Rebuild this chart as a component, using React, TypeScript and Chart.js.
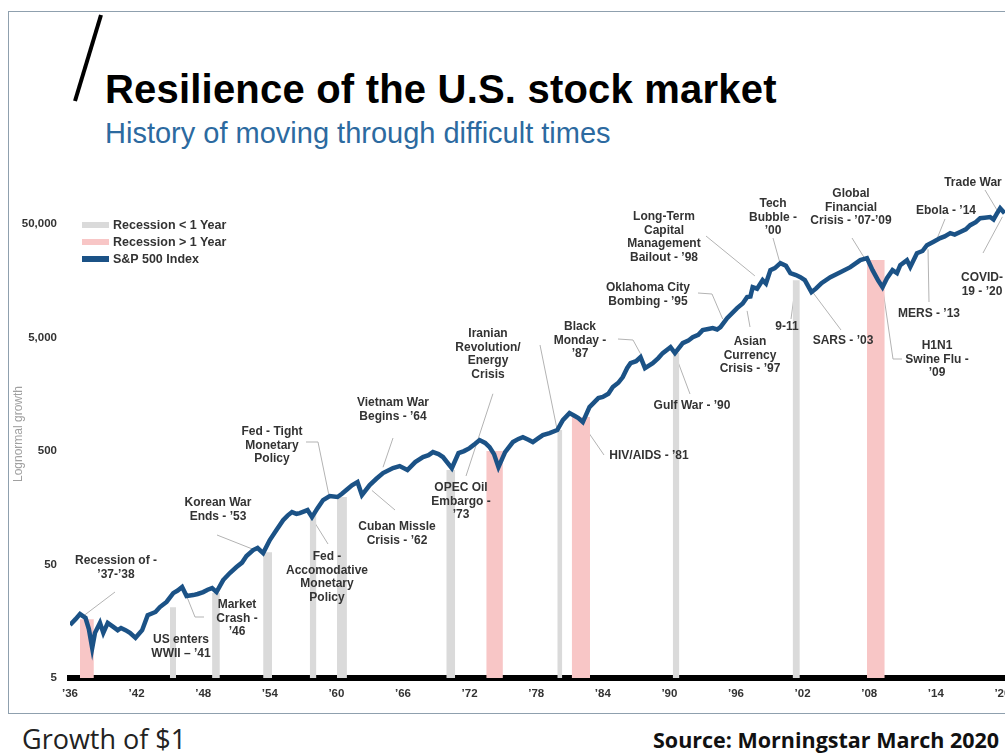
import React, { useEffect, useRef } from "react";
import { Chart, registerables } from "chart.js";

Chart.register(...registerables);

// ---------------- DATA ----------------
const YEARS = [
  1936.0, 1936.5, 1936.9, 1937.4, 1937.7, 1938.0, 1938.25, 1938.7, 1939.0, 1939.4, 1939.9, 1940.3, 1940.6, 1941.0,
  1941.4, 1941.9, 1942.5, 1943.0, 1943.7, 1944.1, 1944.7, 1945.3, 1945.7, 1946.1, 1946.5, 1947.1, 1947.5, 1948.0,
  1948.4, 1948.8, 1949.2, 1949.8, 1950.4, 1951.0, 1951.5, 1951.9, 1952.5, 1952.9, 1953.4, 1954.0, 1954.6, 1955.2,
  1955.6, 1956.0, 1956.4, 1956.7, 1957.4, 1957.8, 1958.3, 1958.8, 1959.4, 1960.1, 1960.5, 1960.9, 1961.4, 1961.9,
  1962.3, 1963.0, 1963.6, 1964.2, 1965.1, 1965.7, 1966.4, 1967.1, 1967.8, 1968.3, 1968.7, 1969.2, 1969.6, 1970.4,
  1971.0, 1971.5, 1972.0, 1972.5, 1972.9, 1973.4, 1973.8, 1974.2, 1974.6, 1974.9, 1975.2, 1975.9, 1976.4, 1976.8,
  1977.3, 1977.7, 1978.2, 1978.6, 1979.2, 1979.9, 1980.4, 1981.0, 1981.4, 1981.8, 1982.2, 1982.8, 1983.6, 1984.0,
  1984.5, 1984.9, 1985.4, 1985.8, 1986.2, 1986.5, 1987.0, 1987.4, 1987.8, 1988.5, 1989.0, 1989.4, 1990.1, 1990.5,
  1991.2, 1991.7, 1992.1, 1992.6, 1993.0, 1993.5, 1993.9, 1994.3, 1994.6, 1995.2, 1996.1, 1996.6, 1997.0, 1997.3,
  1997.5, 1997.9, 1998.4, 1998.7, 1999.1, 1999.5, 2000.0, 2000.5, 2000.9, 2001.4, 2001.8, 2002.2, 2002.8, 2003.2,
  2003.7, 2004.5, 2005.4, 2006.3, 2007.2, 2007.8, 2008.3, 2008.8, 2009.2, 2009.6, 2010.1, 2010.5, 2010.8, 2011.4,
  2011.7, 2012.3, 2012.8, 2013.2, 2013.8, 2014.4, 2014.8, 2015.3, 2015.7, 2016.2, 2016.7, 2017.1, 2017.6, 2018.0,
  2018.4, 2018.9, 2019.2, 2019.5, 2019.8, 2020.2,
];
const SP500 = [
  14.7, 16.5, 18.3, 16.9, 13.5, 9.2, 12.5, 15.3, 12.5, 15.3, 14.1, 13.2, 13.8, 13.2,
  12.5, 11.3, 13.2, 17.9, 19.1, 21.1, 23.4, 28.0, 29.5, 31.7, 26.4, 26.9, 27.5, 28.6,
  30.0, 31.0, 28.6, 36.5, 42.1, 47.5, 52, 59.4, 67.1, 69.9, 63.1, 82.2, 100.7, 123,
  135, 145, 140, 142, 151, 131, 157, 185, 201, 197, 210, 227, 250, 267,
  205, 251, 285, 320, 354, 369, 340, 400, 443, 460, 490, 470, 443, 354,
  480, 500, 531, 580, 625, 590, 542, 470, 361, 420, 490, 600, 640, 664,
  630, 600, 650, 692, 720, 766, 938, 1081, 1030, 977, 901, 1222, 1466, 1500,
  1600, 1832, 2000, 2244, 2700, 2980, 3100, 3367, 2693, 2980, 3300, 3650, 4122, 3650,
  4476, 4700, 5050, 5300, 5820, 5950, 6066, 5900, 6190, 7430, 9100, 10000, 11375, 11500,
  13930, 13500, 16060, 15000, 19670, 20500, 22650, 21500, 18500, 17800, 17060, 16060, 12590, 13500,
  15100, 17060, 18880, 20900, 24100, 25100, 19670, 16000, 13930, 16700, 19670, 18500, 21770, 24100,
  21000, 27750, 29000, 32650, 35000, 37660, 39000, 41670, 40500, 42700, 45000, 48980, 52000, 56460,
  57000, 57800, 55000, 62000, 69200, 62500,
];

// Recessions shorter than one year (grey)
const SHORT_START = [1945.0, 1948.8, 1953.4, 1957.6, 1960.05, 1969.9, 1979.9, 1990.3, 2001.1];
const SHORT_END = [1945.55, 1949.5, 1954.2, 1958.2, 1960.95, 1970.7, 1980.35, 1990.9, 2001.75];
const SHORT_TOP = [21, 28, 64, 142, 197, 340, 766, 3650, 16000];
// Recessions longer than one year (pink)
const LONG_START = [1936.9, 1973.5, 1981.2, 2007.8];
const LONG_END = [1938.15, 1975.0, 1982.85, 2009.4];
const LONG_TOP = [16.5, 500, 1000, 24100];

const X_TICKS = [1936, 1942, 1948, 1954, 1960, 1966, 1972, 1978, 1984, 1990, 1996, 2002, 2008, 2014, 2020];
const Y_TICKS = [5, 50, 500, 5000, 50000];

const EVENT_TEXT = [
  ["Recession of -", "\u201937-\u201938"],
  ["US enters", "WWII \u2013 \u201941"],
  ["Market", "Crash -", "\u201946"],
  ["Korean War", "Ends - \u201953"],
  ["Fed - Tight", "Monetary", "Policy"],
  ["Fed -", "Accomodative", "Monetary", "Policy"],
  ["Vietnam War", "Begins - \u201964"],
  ["Cuban Missle", "Crisis - \u201962"],
  ["OPEC Oil", "Embargo -", "\u201973"],
  ["Iranian", "Revolution/", "Energy", "Crisis"],
  ["Black", "Monday -", "\u201987"],
  ["HIV/AIDS - \u201981"],
  ["Gulf War - \u201990"],
  ["Oklahoma City", "Bombing - \u201995"],
  ["Long-Term", "Capital", "Management", "Bailout - \u201998"],
  ["Asian", "Currency", "Crisis - \u201997"],
  ["Tech", "Bubble -", "\u201900"],
  ["9-11"],
  ["SARS - \u201903"],
  ["Global", "Financial", "Crisis - \u201907-\u201909"],
  ["H1N1", "Swine Flu -", "\u201909"],
  ["MERS - \u201913"],
  ["Ebola - \u201914"],
  ["Trade War"],
  ["COVID-", "19 - \u201920"],
];
// Point on the index each event's leader line points to (null = no leader)
const EVENT_YEAR = [1937.0, null, 1946.5, 1952.85, 1959.3, 1957.8, 1964.2, 1963.2, 1974.1, 1979.9, 1987.4, 1982.0, 1990.5,
  1994.8, 1997.7, 1997.0, 2000.0, 2001.3, 2002.9, 2007.7, 2009.2, 2013.3, 2014.0, 2019.7, 2020.0];
const EVENT_VALUE = [17, null, 26.5, 66, 210, 128, 360, 225, 1600, 760, 3600, 920, 3600,
  7300, 17500, 8600, 22000, 13000, 12600, 24000, 14000, 30000, 35000, 62000, 58000];

// ---------------- LAYOUT (page pixels) ----------------
const CANVAS_TOP = 170;
const CANVAS_W = 1040;
const CANVAS_H = 545;
const LINE_H = 13.5;
// [label centre x, first line centre y]
const EVENT_POS: [number, number][] = [
  [116, 561], [181, 640], [237, 605], [218, 503], [272, 432], [327, 557], [393, 403], [397, 527], [461, 488],
  [488, 334], [580, 327], [649, 456], [692, 406], [648, 288], [664, 217], [750, 342], [773, 204], [787, 327],
  [843, 341], [851, 194], [937, 346], [929, 314], [946, 211], [973, 183], [982, 278],
];
// leader start, optional elbow
const LEADER_FROM: ([number, number] | null)[] = [
  [115, 592], null, [204, 617], [217, 535], [306, 442], [328, 544], [393, 438], [395, 510], [466, 476],
  [540, 345], [618, 339], [604, 455], [690, 394], [698, 293], [706, 236], [750, 327], [773, 238], [791, 319],
  [841, 330], [852, 238], [902, 359], [929, 302], [945, 219], [985, 190], [983, 253],
];
const LEADER_ELBOW: ([number, number] | null)[] = [
  null, null, [195, 617], null, [318, 442], null, null, null, null,
  null, [633, 340], null, null, [712, 294], null, null, null, null,
  null, null, [893, 359], null, null, null, null,
];

const FONT = '"Liberation Sans", Arial, Helvetica, sans-serif';
const LINE_COLOR = "#1b5286";
const GREY = "#dadada";
const PINK = "#f8c6c6";

const leaderPlugin = {
  id: "leaders",
  beforeDatasetsDraw(chart: any) {
    const { ctx, scales } = chart;
    const xs = scales.x;
    const ys = scales.y;
    ctx.save();
    ctx.strokeStyle = "#b3b3b3";
    ctx.lineWidth = 1;
    EVENT_TEXT.forEach((_, i) => {
      const from = LEADER_FROM[i];
      const yr = EVENT_YEAR[i];
      const val = EVENT_VALUE[i];
      if (!from || yr == null || val == null) return;
      ctx.beginPath();
      ctx.moveTo(from[0], from[1] - CANVAS_TOP);
      const el = LEADER_ELBOW[i];
      if (el) ctx.lineTo(el[0], el[1] - CANVAS_TOP);
      ctx.lineTo(xs.getPixelForValue(yr), ys.getPixelForValue(val));
      ctx.stroke();
    });
    ctx.restore();
  },
};

function recessionSets(starts: number[], ends: number[], tops: number[], color: string) {
  return starts.map((s, i) => ({
    type: "line" as const,
    data: [
      { x: s, y: tops[i] },
      { x: ends[i], y: tops[i] },
    ],
    borderWidth: 0,
    pointRadius: 0,
    backgroundColor: color,
    borderColor: color,
    fill: "start",
    order: 2,
  }));
}

export default function App() {
  const ref = useRef<HTMLCanvasElement>(null);

  useEffect(() => {
    Chart.defaults.font.family = FONT;
    const chart = new Chart(ref.current as HTMLCanvasElement, {
      type: "line",
      data: {
        datasets: [
          {
            label: "S&P 500 Index",
            data: YEARS.map((yr, i) => ({ x: yr, y: SP500[i] })),
            borderColor: LINE_COLOR,
            backgroundColor: LINE_COLOR,
            borderWidth: 4.5,
            pointRadius: 0,
            tension: 0,
            fill: false,
            order: 0,
          } as any,
          ...recessionSets(SHORT_START, SHORT_END, SHORT_TOP, GREY),
          ...recessionSets(LONG_START, LONG_END, LONG_TOP, PINK),
        ],
      },
      options: {
        responsive: false,
        animation: false,
        devicePixelRatio: 1,
        layout: { padding: { top: 20, left: 0, right: 26.5, bottom: 0 } },
        plugins: { legend: { display: false }, tooltip: { enabled: false } },
        scales: {
          x: {
            type: "linear",
            min: 1936,
            max: 2021,
            afterBuildTicks: (s: any) => {
              s.ticks = X_TICKS.map((v) => ({ value: v }));
            },
            afterFit: (s: any) => {
              s.height = 37;
            },
            grid: { display: false, drawTicks: false },
            border: { display: true, color: "#000", width: 6 },
            ticks: {
              autoSkip: false,
              maxRotation: 0,
              padding: 9,
              color: "#333",
              font: { size: 11.5, weight: "bold" },
              callback: (v: any) => "\u2019" + String(v).slice(2),
            },
          },
          y: {
            type: "logarithmic",
            min: 5,
            max: 100000,
            afterBuildTicks: (s: any) => {
              s.ticks = Y_TICKS.map((v) => ({ value: v }));
            },
            afterFit: (s: any) => {
              s.width = 70;
            },
            grid: { display: false, drawTicks: false },
            border: { display: false },
            ticks: {
              autoSkip: false,
              padding: 13,
              color: "#333",
              font: { size: 11.5, weight: "bold" },
              callback: (v: any) => Number(v).toLocaleString("en-US"),
            },
            title: {
              display: true,
              text: "Lognormal growth",
              color: "#a0a0a0",
              font: { size: 12 },
              padding: { top: 11, bottom: 0 },
            },
          },
        },
      } as any,
      plugins: [leaderPlugin],
    });
    return () => chart.destroy();
  }, []);

  const legendRows = [
    { color: GREY, text: "Recession < 1 Year", y: 225 },
    { color: PINK, text: "Recession > 1 Year", y: 242 },
    { color: LINE_COLOR, text: "S&P 500 Index", y: 259 },
  ];

  return (
    <div
      style={{
        position: "fixed",
        left: 0,
        top: 0,
        width: 1005,
        height: 755,
        overflow: "hidden",
        background: "#fff",
        fontFamily: FONT,
      }}
    >
      {/* frame */}
      <div style={{ position: "absolute", left: 8, top: 11, width: 1100, height: 703, borderLeft: "1.5px solid #8fa0ae", borderTop: "1.5px solid #8fa0ae", borderBottom: "1.5px solid #8fa0ae", boxSizing: "border-box" }} />
      <svg width={140} height={120} style={{ position: "absolute", left: 0, top: 0 }}>
        <line x1={101} y1={15} x2={75} y2={101} stroke="#000" strokeWidth={4} />
      </svg>
      <div style={{ position: "absolute", left: 105, top: 69, fontSize: 40, lineHeight: "40px", fontWeight: "bold", color: "#000", whiteSpace: "nowrap", letterSpacing: 0.2 }}>
        Resilience of the U.S. stock market
      </div>
      <div style={{ position: "absolute", left: 105, top: 119, fontSize: 29, lineHeight: "29px", color: "#2c6aa0", whiteSpace: "nowrap" }}>
        History of moving through difficult times
      </div>

      <canvas
        ref={ref}
        width={CANVAS_W}
        height={CANVAS_H}
        style={{ position: "absolute", left: 0, top: CANVAS_TOP, width: CANVAS_W, height: CANVAS_H }}
      />

      {legendRows.map((r) => (
        <React.Fragment key={r.text}>
          <div style={{ position: "absolute", left: 82, top: r.y - 3, width: 27, height: 6, background: r.color }} />
          <div style={{ position: "absolute", left: 113, top: r.y - 8, fontSize: 12.5, lineHeight: "16px", fontWeight: "bold", color: "#333", whiteSpace: "nowrap" }}>
            {r.text}
          </div>
        </React.Fragment>
      ))}

      {EVENT_TEXT.map((lines, i) => (
        <div
          key={i}
          style={{
            position: "absolute",
            left: EVENT_POS[i][0] - 80,
            top: EVENT_POS[i][1] - LINE_H / 2,
            width: 160,
            textAlign: "center",
            fontSize: 12,
            lineHeight: LINE_H + "px",
            fontWeight: "bold",
            color: "#333",
            whiteSpace: "nowrap",
          }}
        >
          {lines.map((l, j) => (
            <div key={j}>{l}</div>
          ))}
        </div>
      ))}

      <div style={{ position: "absolute", left: 22, top: 724, fontSize: 27, lineHeight: "30px", color: "#222", fontFamily: '"Open Sans", sans-serif', whiteSpace: "nowrap" }}>
        Growth of $1
      </div>
      <div style={{ position: "absolute", left: 653, top: 727, fontSize: 21.5, lineHeight: "26px", fontWeight: "bold", color: "#111", fontFamily: '"Open Sans", sans-serif', whiteSpace: "nowrap" }}>
        Source: Morningstar March 2020
      </div>
    </div>
  );
}
